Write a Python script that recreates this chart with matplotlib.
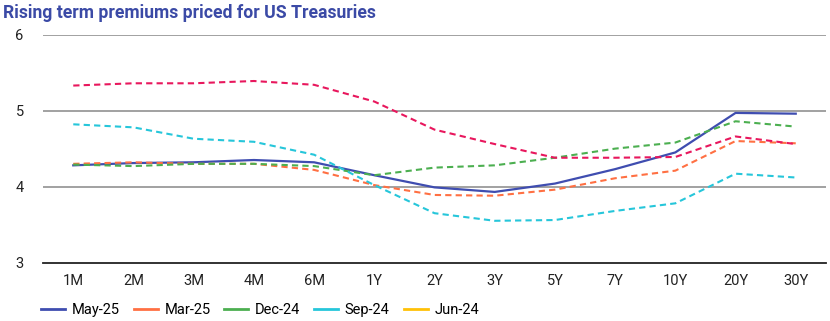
"""
Rising term premiums chart
"""
import matplotlib.pyplot as plt
from matplotlib.lines import Line2D

plt.rcParams["font.family"] = ["Roboto", "DejaVu Sans"]

TENORS = ["1M", "2M", "3M", "4M", "6M", "1Y", "2Y", "3Y", "5Y", "7Y", "10Y", "20Y", "30Y"]

may_25 = [4.28, 4.31, 4.32, 4.35, 4.32, 4.15, 3.99, 3.93, 4.04, 4.23, 4.45, 4.97, 4.96]
mar_25 = [4.30, 4.32, 4.30, 4.30, 4.22, 4.02, 3.89, 3.88, 3.96, 4.11, 4.21, 4.60, 4.57]
dec_24 = [4.29, 4.27, 4.30, 4.30, 4.27, 4.15, 4.25, 4.28, 4.38, 4.50, 4.58, 4.86, 4.79]
sep_24 = [4.82, 4.78, 4.63, 4.59, 4.42, 4.02, 3.65, 3.55, 3.56, 3.68, 3.78, 4.17, 4.12]
jun_24 = [5.33, 5.36, 5.36, 5.39, 5.34, 5.12, 4.75, 4.56, 4.38, 4.38, 4.39, 4.66, 4.56]

SERIES = [
    ("May-25", may_25, "#3f4db0", "#3f4db0", "-"),
    ("Mar-25", mar_25, "#ff7043", "#ff7043", (0, (3, 2))),
    ("Dec-24", dec_24, "#4caf50", "#4caf50", (0, (3, 2))),
    ("Sep-24", sep_24, "#26c6da", "#26c6da", (0, (3, 2))),
    ("Jun-24", jun_24, "#e8175d", "#ffc107", (0, (3, 2))),
]

fig = plt.figure(figsize=(8.3, 3.21), dpi=100)
ax = fig.add_axes([0.052, 0.182, 0.943, 0.71])

x = list(range(len(TENORS)))
handles = []
for name, vals, col, leg_col, ls in SERIES:
    ax.plot(x, vals, color=col, lw=1.6 if ls == "-" else 1.5, linestyle=ls, zorder=3)
    handles.append(Line2D([], [], color=leg_col, lw=2, label=name))

ax.set_xlim(-0.5, len(TENORS) - 0.5)
ax.set_ylim(3, 6)
ax.set_yticks([3, 4, 5, 6])
ax.set_yticklabels(["3", "4", "5", "6"])
ax.set_xticks(x)
ax.set_xticklabels(TENORS)
ax.tick_params(length=0, labelsize=10.5, colors="#222222")
ax.tick_params(axis="y", pad=14)
ax.tick_params(axis="x", pad=8)

for yv in [4, 5, 6]:
    ax.axhline(yv, color="#9a9a9a", lw=1.3, zorder=1)
for side in ["top", "right", "left"]:
    ax.spines[side].set_visible(False)
ax.spines["bottom"].set_color("#222222")
ax.spines["bottom"].set_linewidth(1.3)

fig.text(0.004, 0.96, "Rising term premiums priced for US Treasuries", fontsize=12.7,
         fontweight="bold", color="#3b4aa6", va="center", ha="left")

fig.legend(handles=handles, loc="center left", bbox_to_anchor=(0.034, 0.034), ncol=5,
           frameon=False, fontsize=10.5, handlelength=1.65, columnspacing=0.95,
           handletextpad=0.45)

fig.savefig("out.png", dpi=100)
